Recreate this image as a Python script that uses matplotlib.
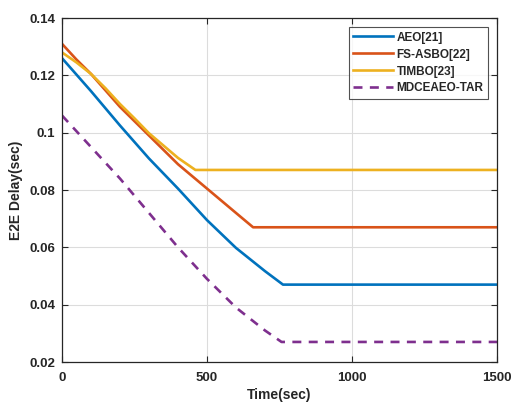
import matplotlib
matplotlib.use("Agg")
import matplotlib.pyplot as plt
from matplotlib.ticker import FuncFormatter

# Time axis (sec) and end-to-end delay (sec) for each scheme
aeo_t = [0, 100, 200, 300, 400, 500, 600, 700, 762, 1500]
aeo_v = [0.126, 0.1145, 0.1025, 0.091, 0.0805, 0.0695, 0.0598, 0.0517, 0.047, 0.047]

fs_t = [0, 50, 100, 200, 300, 400, 500, 600, 659, 1500]
fs_v = [0.131, 0.1255, 0.1205, 0.109, 0.099, 0.089, 0.0805, 0.0720, 0.067, 0.067]

timbo_t = [0, 50, 100, 150, 200, 250, 300, 350, 400, 460, 1500]
timbo_v = [0.128, 0.1245, 0.1205, 0.1155, 0.1100, 0.1050, 0.0998, 0.0955, 0.0912, 0.087, 0.087]

mdc_t = [0, 100, 200, 300, 400, 500, 600, 700, 757, 1500]
mdc_v = [0.106, 0.095, 0.084, 0.072, 0.060, 0.049, 0.039, 0.031, 0.027, 0.027]

labels = ["AEO[21]", "FS-ASBO[22]", "TIMBO[23]", "MDCEAEO-TAR"]
x_ticks = [0, 500, 1000, 1500]
y_ticks = [0.02, 0.04, 0.06, 0.08, 0.1, 0.12, 0.14]

plt.rcParams["font.family"] = ["Liberation Sans", "DejaVu Sans"]
plt.rcParams["font.weight"] = "bold"

fig = plt.figure(figsize=(5.11, 4.03), dpi=100)
ax = fig.add_axes([0.1213, 0.1017, 0.8513, 0.8536])

lw = 1.9
ax.plot(aeo_t, aeo_v, color="#0072BD", lw=lw, label=labels[0])
ax.plot(fs_t, fs_v, color="#D95319", lw=lw, label=labels[1])
ax.plot(timbo_t, timbo_v, color="#EDB120", lw=lw, label=labels[2])
ax.plot(mdc_t, mdc_v, color="#7E2F8E", lw=lw, ls=(0, (3.4, 2.8)), label=labels[3])

ax.set_xlim(0, 1500)
ax.set_ylim(0.02, 0.14)
ax.set_xticks(x_ticks)
ax.set_yticks(y_ticks)
ax.yaxis.set_major_formatter(FuncFormatter(lambda v, p: f"{v:g}"))
ax.grid(True, color="#dcdcdc", lw=0.8)
ax.set_axisbelow(True)
ax.tick_params(axis="both", direction="in", top=True, right=True, length=4, width=0.8,
               labelsize=9.5, colors="#262626")
ax.tick_params(axis="x", pad=7)
ax.tick_params(axis="y", pad=5)
for s in ax.spines.values():
    s.set_color("#262626")
    s.set_linewidth(0.9)

ax.set_xlabel("Time(sec)", fontsize=10, fontweight="bold", color="#262626", labelpad=3)
ax.set_ylabel("E2E Delay(sec)", fontsize=10, fontweight="bold", color="#262626", labelpad=4)

leg = ax.legend(loc="upper right", fontsize=8.5, frameon=True, fancybox=False,
                edgecolor="#262626", handlelength=3.4, handletextpad=0.25,
                borderpad=0.4, labelspacing=0.42, borderaxespad=0.75)
leg.get_frame().set_linewidth(0.8)
for t in leg.get_texts():
    t.set_fontweight("bold")
    t.set_color("#262626")

fig.savefig("out.png", dpi=100)
